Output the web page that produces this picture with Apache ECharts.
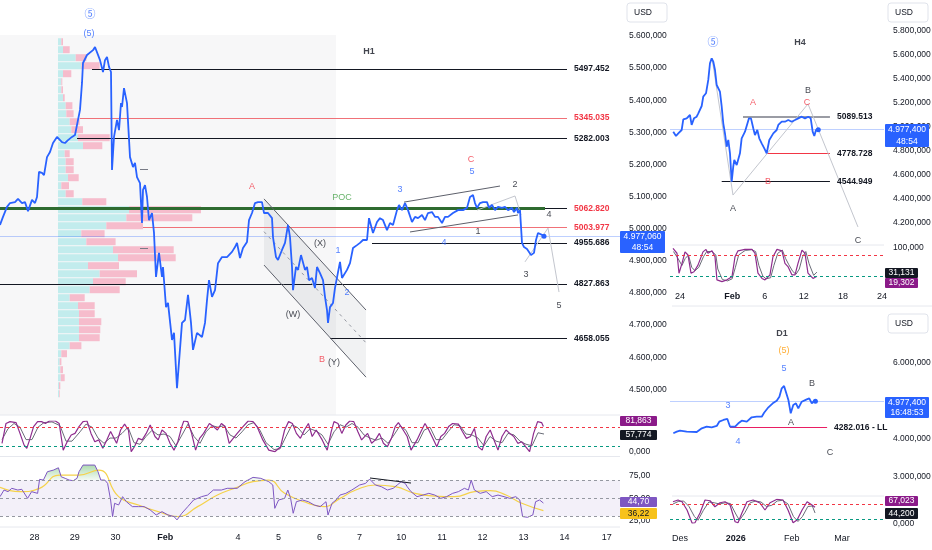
<!DOCTYPE html>
<html>
<head>
<meta charset="utf-8">
<script src="https://cdn.jsdelivr.net/npm/echarts@6/dist/echarts.min.js"></script>
<style>
html, body { margin: 0; padding: 0; background: #fff; }
#chart { width: 932px; height: 550px; }
</style>
</head>
<body>
<div id="chart"></div>
<script>
// ---- H1 (bar index on x, price on y) ----
var h1DayTicks = [17.2, 37.4, 57.7, 82.6, 119, 139.3, 159.7, 179.8, 200.6, 221, 241.3, 261.8, 282.2, 303.4];
var h1DayLabels = ['28', '29', '30', 'Feb', '4', '5', '6', '7', '10', '11', '12', '13', '14', '17'];

var h1Price = [[0,5012],[1.5,5037],[3.5,5068],[5,5080],[7.5,5083],[9,5093],[11,5080],[12.5,5083],[14,5055],[16,5090],[17.5,5080],[18.5,5099],[19.5,5177],[21,5174],[22,5167],[23.5,5223],[25,5239],[26.5,5267],[28.5,5286],[29.5,5292],[31,5270],[32.5,5267],[34,5276],[36,5286],[37.5,5292],[38.5,5286],[40,5370],[41,5454],[41.5,5516],[43.5,5541],[44.5,5547],[46.5,5556],[47.5,5566],[48.5,5560],[50,5525],[51.5,5488],[52.5,5525],[53.5,5535],[54.5,5504],[55.5,5488],[56,5183],[57,5286],[58.5,5339],[59.5,5307],[60.5,5391],[61,5379],[62,5438],[63.5,5391],[65,5223],[66.5,5192],[67.5,5205],[68.5,5161],[70,5142],[71,5018],[71.5,5121],[72.5,5136],[73.5,5099],[74.5,5027],[76,5049],[77,4987],[78,4850],[79.5,4925],[81,4850],[81.5,4881],[83,4756],[84,4769],[86,4654],[87,4676],[88.5,4504],[91,4707],[92.5,4716],[94,4794],[95.5,4707],[96.5,4623],[98.5,4676],[101,4663],[102.5,4707],[103.5,4778],[104.5,4840],[106,4788],[107.5,4809],[109,4893],[111,4912],[113.5,4912],[116,4928],[117.5,4943],[118.5,4956],[120,4909],[121.5,4940],[123.5,4959],[124.5,5027],[126,5049],[127.5,5080],[129,5083],[131,5083],[132,5049],[134,5049],[136,5033],[136.5,4974],[138,4912],[139,4903],[141,4934],[142.5,4956],[144,5012],[145,4974],[146,4881],[146.5,4809],[148,4881],[149,4872],[150.5,4918],[151.5,4912],[152.5,4872],[153.5,4881],[154.5,4840],[156,4847],[157.5,4816],[158.5,4881],[160,4862],[161.5,4840],[162.5,4788],[163.5,4747],[164,4707],[165,4756],[166.5,4769],[167.5,4816],[168.5,4816],[170,4897],[171,4847],[172,4850],[173.5,4872],[175,4893],[176.5,4940],[178.5,4949],[180,4956],[181.5,4965],[183.5,4965],[184.5,5033],[186.5,4987],[188.5,5021],[190,5033],[191.5,5027],[193.5,4996],[195,5018],[196.5,5012],[198.5,5058],[199.5,5074],[201,5058],[202.5,5080],[204,5058],[206,5021],[207.5,5037],[209,5033],[211,5043],[212.5,5027],[214,5049],[216,5052],[217.5,5037],[219,5037],[221,5018],[222.5,5037],[224,5037],[226.5,5049],[229,5058],[231.5,5058],[233.5,5065],[235,5099],[236.5,5105],[237.5,5080],[238.5,5065],[240,5080],[241.5,5083],[243.5,5083],[244.5,5065],[246,5074],[247.5,5058],[249,5068],[251,5065],[252.5,5068],[254,5058],[256,5065],[257,5052],[258.5,5065],[259,5049],[260,5058],[261,4956],[262,4943],[263.5,4937],[264.5,4943],[265.5,4918],[267,4925],[268,4965],[269,4987],[271,4981],[272,4977]];

var h1StochK = [[1,28],[3,92],[5,98],[8,95],[10,60],[12,23],[13.4,12],[14.8,39],[16.8,82],[18.8,98],[20.8,98],[22.7,92],[24.7,100],[27.7,100],[29.6,92],[31.6,6],[33.6,33],[35.6,55],[37.5,60],[39.5,82],[41.5,98],[43.5,100],[45.5,60],[47.4,33],[49.4,39],[51.4,12],[53.4,39],[55.3,66],[58.3,28],[60.3,71],[62.3,90],[64.2,71],[65.6,1],[67.2,17],[69.2,44],[71.1,39],[73.1,60],[75.1,87],[77.5,50],[79.1,39],[81,71],[83,60],[85,28],[87,6],[88.9,33],[90.9,82],[91.9,100],[93.9,98],[95.8,60],[97.8,6],[99.8,44],[101.8,60],[104.7,92],[106.7,82],[108.7,71],[110.7,92],[112.6,82],[114.6,28],[116.6,44],[118.6,60],[121.5,82],[124.1,100],[126.5,98],[128.5,82],[131.4,39],[134.4,6],[137.4,1],[140.3,17],[142.3,71],[144.3,98],[146.2,92],[148.2,60],[150.2,44],[152.2,71],[154.2,92],[156.1,50],[158.1,71],[161.1,39],[163.6,6],[165.6,66],[167,98],[169,92],[170.9,60],[172.9,87],[174.9,100],[176.9,98],[178.9,66],[180.8,39],[183.8,60],[185.8,28],[187.7,39],[189.7,60],[191.7,28],[193.7,17],[195.7,44],[197.6,82],[199.2,95],[201.6,71],[203.6,50],[205.5,6],[208.5,39],[210.5,66],[212.5,92],[214.4,71],[216.4,44],[218.4,17],[220.4,50],[222.3,60],[224.3,82],[226.3,92],[229.2,90],[231.2,66],[233.2,44],[235.2,50],[237.2,76],[239.1,17],[241.1,6],[243.1,50],[245.1,71],[247,39],[249,6],[251,50],[253,71],[254.9,60],[256.9,50],[258.9,28],[260.9,33],[262.8,17],[264.8,1],[266.8,60],[268.8,98],[270.8,95],[271.7,82]];
var h1StochD = [[1,40],[4,75],[7,92],[10,80],[13,40],[16,40],[19,80],[22,95],[26,97],[30,85],[33,35],[36,35],[40,65],[43,90],[46,80],[49,45],[52,28],[55,45],[58,45],[61,60],[64,80],[67,30],[70,25],[73,50],[76,70],[79,55],[82,58],[85,50],[88,20],[91,55],[94,90],[97,50],[100,28],[103,65],[106,85],[109,80],[112,85],[115,55],[118,45],[121,65],[124,88],[127,95],[130,70],[133,30],[137,8],[140,10],[143,50],[146,88],[149,78],[152,55],[155,75],[158,68],[161,55],[164,25],[167,65],[170,88],[173,80],[176,92],[179,80],[182,55],[185,45],[188,38],[191,45],[194,28],[197,55],[200,85],[203,70],[206,30],[209,30],[212,70],[215,80],[218,40],[221,40],[224,65],[227,88],[230,85],[233,58],[236,55],[239,45],[242,20],[245,50],[248,35],[251,30],[254,60],[257,55],[260,35],[263,25],[266,20],[269,62],[272,58]];

var h1Rsi = [[0,51.8],[2,59.2],[4,57.4],[5.9,61.1],[8.9,59.2],[10.9,60],[13.8,49.9],[15.8,57.4],[18.8,55.5],[19.8,71.1],[21.7,70.3],[23.7,79.6],[26.7,81.4],[29.2,84],[30.6,74],[32.6,72.2],[34.6,70.3],[36.6,69.6],[38.5,72.2],[39.5,79.6],[41.5,87],[44.5,87],[47.4,87],[49,79.6],[50.4,70.3],[52.4,70.3],[53.8,66.6],[55.3,48.1],[56.3,29.6],[57.3,44.4],[59.3,42.5],[61.3,51.8],[63.2,46.2],[66.2,40.7],[69.2,40.7],[72.1,40.7],[75.1,37],[78.1,31.4],[81,35.1],[84,31.4],[87,29.6],[88.5,25.9],[90.9,33.3],[93.9,40.7],[96.8,48.1],[100.8,51.8],[103.8,53.6],[106.7,59.2],[110.7,59.2],[113.6,61.1],[118.6,61.1],[122.5,68.5],[126.5,73.3],[130.4,72.2],[134.4,68.5],[136.4,64.8],[137.4,38.8],[139.3,48.1],[142.3,49.9],[143.9,59.2],[145.3,49.9],[146.6,33.3],[148.2,46.2],[151.2,48.1],[154.2,46.2],[157.1,42.5],[160.1,40.7],[163,46.2],[164,31.4],[166,44.4],[168,48.1],[170,53.6],[172.9,55.5],[175.9,59.2],[179.8,64.8],[182.8,66.6],[184.8,71.4],[187.7,64.8],[190.7,62.9],[193.7,59.2],[196.6,61.1],[198.6,64.8],[200.6,68.5],[202.6,66.6],[203.6,62.9],[205.5,57.4],[208.5,51.8],[211.5,53.6],[214.4,55.5],[217.4,53.6],[220.4,49.9],[223.3,51.8],[226.3,55.5],[229.2,57.4],[232.2,61.1],[234.2,59.2],[235.6,70.3],[237.2,59.2],[240.1,55.5],[243.1,57.4],[246.1,51.8],[249,53.6],[252,51.8],[254.9,49.9],[257.9,51.8],[259.9,48.1],[261.3,29.6],[263.8,28.8],[266.4,31.4],[267.8,46.2],[269.8,48.1],[271.7,44.7]];
var h1RsiMa = [[0,62.2],[9.9,57.4],[19.8,61.1],[29.6,75.9],[39.5,75.9],[49.4,81.4],[59.3,51.8],[69.2,42.5],[79.1,35.1],[88.9,29.6],[98.8,40.7],[108.7,53.6],[118.6,62.2],[126.5,68.5],[134.4,70.3],[142.3,55.5],[154.2,44.4],[162.1,40.7],[170,49.9],[177.9,59.2],[187.7,64.8],[197.6,62.9],[207.5,55.5],[217.4,52.5],[227.3,51.8],[237.2,57.4],[245.1,58.5],[253,53.6],[260.9,44.4],[271.7,36.2]];
var rsiDivergence = [[185, 72.6], [205.5, 67]];

// volume profile rows, top to bottom (up / down volume)
var vpUp = [3.3,5,17.7,23.3,5,3.3,3.3,5,7.7,8.3,11.7,13.3,20,25,6.7,7.7,7.7,10,3.3,7.7,24.3,71,68.3,48.3,23.3,28.3,55,60,30,41.7,35,31.7,11.7,20,21,21,21,21,11.7,3.3,1.7,2.3,2.7,1,1];
var vpDown = [1.7,6.7,10.7,18.3,8.3,1,1.7,1.7,6.7,7.3,10,11.7,31.7,19.3,5,8,8,10.7,7.7,8,24,72,66,36.7,23.3,29.3,60.7,57.7,31,37.3,32.7,30,15,16.7,15.7,22.3,21.3,20.7,11.7,5.7,1.7,2.7,4,1.3,0.7];

var h1Last = 4977.060;
var pocPrice = 5062.82;
var h1LevelPrices = [5497.452, 5345.035, 5282.003, 5062.820, 5003.977, 4955.686, 4827.863, 4658.055];
var h1LevelFrom = [46, 40, 38.5, 272.5, 71.5, 186, 0, 165];
var h1LevelRed = [false, true, false, true, true, false, false, false];
var h1ChannelUpper = [[132, 5093], [183, 4747]];
var h1ChannelLower = [[132, 4887], [183, 4538]];
var h1ChannelMid = [[132, 4991], [183, 4645]];
var h1WedgeUpper = [[202, 5083], [250, 5133]];
var h1WedgeLower = [[205, 4990], [259, 5043]];
var h1Path12 = [[238.5, 5058], [257.5, 5102], [260.5, 5043]];
var h1Path345 = [[262.5, 4897], [274, 5002], [279.5, 4803]];
var h1VaMarks = [5186, 4940];

var h1Notes = [[45,5668,'⑤','blue'],[44.5,5609,'(5)','blue'],[184.5,5553,'H1','title'],[171,5096,'POC','green'],[126,5133,'A','red'],[160,4953,'(X)','black'],[169,4931,'1','blue'],[173.5,4800,'2','blue'],[146.5,4732,'(W)','black'],[161,4592,'B','red'],[167,4585,'(Y)','black'],[200,5121,'3','blue'],[235.5,5217,'C','red'],[236,5177,'5','blue'],[257.5,5139,'2','black'],[274.5,5043,'4','black'],[239,4990,'1','black'],[222,4956,'4','blue'],[263,4859,'3','black'],[279.5,4760,'5','black']];

// ---- H4 (days from 1 Feb on x) ----
var h4DayTicks = [-8, 0, 5, 11, 17, 23];
var h4DayLabels = ['24', 'Feb', '6', '12', '18', '24'];
var h4Price = [[-9.03,4961],[-8.61,4925],[-8.26,4947],[-7.74,4975],[-7.49,5064],[-6.97,5072],[-6.73,5058],[-6.47,5100],[-6.21,5017],[-5.85,5072],[-5.44,5086],[-5.19,5114],[-4.93,5100],[-4.67,5175],[-4.43,5253],[-4.01,5281],[-3.66,5392],[-3.40,5531],[-3.14,5572],[-2.89,5544],[-2.63,5475],[-2.37,5350],[-2.13,5364],[-1.87,5294],[-1.60,5169],[-1.36,5031],[-1.10,4947],[-0.84,4836],[-0.59,4892],[-0.33,4781],[-0.07,4544],[0.17,4669],[0.33,4725],[0.70,4683],[0.94,4669],[1.20,4781],[1.46,4906],[1.71,4919],[1.97,4961],[2.23,4947],[2.58,5072],[2.89,5072],[3.24,4989],[3.50,4933],[3.86,4975],[4.16,4906],[4.53,4864],[4.93,4822],[5.30,4781],[5.70,4892],[5.96,4878],[6.31,4947],[6.83,4975],[7.08,5017],[7.60,5044],[8.10,5044],[8.61,5058],[9.13,5044],[9.64,5058],[10.14,5072],[10.67,5086],[11.17,5072],[11.68,5086],[12.05,5072],[12.35,4961],[12.60,4925],[12.86,4975],[13.06,4981],[13.21,4977]];
var h4StochK = [[-9.07,99],[-8.46,85],[-8.15,28],[-7.69,56],[-7.23,89],[-6.77,80],[-6.31,28],[-5.85,32],[-5.24,51],[-4.47,89],[-4.01,96],[-3.71,85],[-3.09,92],[-2.63,75],[-2.33,9],[-1.56,4],[-0.79,9],[-0.02,18],[0.44,75],[0.9,92],[1.97,96],[3.04,96],[3.5,85],[3.96,28],[4.58,13],[5.04,9],[5.8,23],[6.26,75],[6.88,96],[7.64,92],[8.1,56],[8.56,47],[9.18,23],[9.64,23],[10.1,56],[10.71,94],[11.17,85],[11.63,28],[12.4,13],[13.01,19.3]];
var h4StochD = [[-9,90],[-8.3,70],[-7.7,50],[-7.2,70],[-6.7,80],[-6.2,45],[-5.7,35],[-5.1,45],[-4.4,75],[-3.9,90],[-3.1,90],[-2.5,80],[-2.2,40],[-1.5,10],[-0.7,6],[0,12],[0.5,45],[1,80],[2,93],[3,95],[3.6,90],[4.1,50],[4.7,20],[5.2,12],[5.9,15],[6.4,50],[7,85],[7.7,94],[8.2,70],[8.7,52],[9.3,33],[9.8,25],[10.3,40],[10.8,75],[11.3,90],[11.8,55],[12.5,22],[13,31.1]];
var h4Last = 4977.4;
var h4LevelPrices = [5089.513, 4778.728, 4544.949];
var h4LevelFrom = [1.66, 5.34, -1.6];
var h4Projection = [[-3.09, 5575], [0.13, 4433], [11.63, 5192], [19.3, 4167]];
var h4Notes = [[-2.94,5708,'⑤','blue'],[10.4,5700,'H4','title'],[3.2,5208,'A','red'],[11.48,5200,'C','red'],[11.63,5308,'B','black'],[5.5,4542,'B','red'],[0.13,4317,'A','black'],[19.3,4058,'C','black']];

// ---- D1 (days from 1 Dec on x) ----
var d1DayTicks = [0, 31, 62, 90];
var d1DayLabels = ['Des', '2026', 'Feb', 'Mar'];
var d1Price = [[-3.7,4132],[-1.8,4174],[0,4200],[3.7,4174],[9.3,4166],[12.1,4263],[14.8,4305],[17.6,4289],[20.4,4324],[21.8,4437],[24.1,4482],[26.3,4508],[27.8,4305],[30.6,4305],[32.4,4395],[34.3,4463],[37.1,4437],[39.8,4553],[42.6,4568],[45.4,4568],[46.7,4674],[49.1,4816],[51.5,4921],[53.7,4989],[55.2,5095],[56.5,5316],[57.8,5376],[58.9,5342],[60.2,5008],[61.5,4658],[62.9,4876],[64.4,4921],[65.7,4789],[67.6,4963],[70.4,5026],[71.8,5053],[73.2,4921],[74.4,4982],[75.2,4977]];
var d1StochK = [[-3.9,89],[-1.1,96],[1.1,89],[3.9,56],[6.7,4],[8.3,5],[11.1,44],[13.9,96],[16.7,93],[19.4,69],[22.2,85],[25,89],[27.8,76],[30.6,9],[32.2,5],[34.4,44],[37.2,89],[40.6,96],[44.4,84],[47.2,56],[50,85],[53.9,99],[57.2,96],[60,56],[62.8,5],[65,16],[67.8,56],[70.6,89],[73.3,76],[75,67]];
var d1StochD = [[-3.9,80],[-1,90],[2,92],[5,70],[8,30],[10,15],[13,55],[16,88],[19,85],[22,80],[25,85],[28,82],[31,40],[33,15],[36,45],[39,85],[42,92],[45,88],[48,70],[51,75],[54,92],[57,95],[60,80],[63,30],[65.5,10],[68,30],[71,70],[73.5,72],[75,44.2]];
var d1Last = 4977.4;
var d1LowPrice = 4282.016;
var d1LowFrom = 27.8, d1LowTo = 81.7;
var d1Notes = [[56.7,6745,'D1','title'],[57.8,6297,'(5)','orange'],[57.8,5824,'5','blue'],[73.3,5429,'B','black'],[26.7,4850,'3','blue'],[61.7,4403,'A','black'],[32.2,3903,'4','blue'],[83.3,3613,'C','black']];

// ---- helpers ----
var FONT = 'Liberation Sans';
var INK = '#131722';
var BLUE = '#2962ff';
var noteColors = { blue: BLUE, red: '#f23645', black: INK, green: '#43a047', title: INK, orange: '#ff9800' };

function fmtNum(v, dec) {
    var s = Math.abs(v).toFixed(dec).split('.');
    var ip = s[0].replace(/\B(?=(\d{3})+(?!\d))/g, '.');
    return (v < 0 ? '-' : '') + ip + (dec ? ',' + s[1] : '');
}
function seg(a, b, style) {
    return [{ coord: a, lineStyle: style }, { coord: b }];
}
function path(points, style) {
    var out = [];
    for (var i = 1; i < points.length; i++) out.push(seg(points[i - 1], points[i], style));
    return out;
}
function levelLine(from, to, price, lineColor, textColor, text) {
    return [{
        coord: [from, price],
        lineStyle: { color: lineColor, width: 1, type: 'solid' },
        label: { show: true, position: 'end', distance: 7, formatter: text, color: textColor,
                 fontSize: 8.5, fontWeight: 'bold', fontFamily: FONT }
    }, { coord: [to, price] }];
}
function notes(list, xi, yi) {
    return {
        type: 'scatter', xAxisIndex: xi, yAxisIndex: yi, symbolSize: 1, silent: true, z: 10,
        itemStyle: { color: 'rgba(0,0,0,0)' },
        data: list.map(function (n) {
            var big = n[2] === '⑤';
            return {
                name: n[2], value: [n[0], n[1]],
                label: {
                    color: noteColors[n[3]],
                    fontWeight: n[3] === 'title' ? 'bold' : 'normal',
                    fontSize: big ? 11 : 9,
                    fontFamily: big ? 'Noto Sans CJK SC' : FONT
                }
            };
        }),
        label: { show: true, position: 'inside', formatter: '{b}' }
    };
}
function dayAxis(grid, min, max, ticks, labels, boldLabel, margin, show) {
    return {
        type: 'value', gridIndex: grid, min: min, max: max,
        axisLine: { show: false }, axisTick: { show: false }, splitLine: { show: false },
        axisLabel: {
            show: show, margin: margin, customValues: ticks,
            color: INK, fontSize: 9, fontFamily: FONT,
            formatter: function (v) {
                var i = ticks.indexOf(v);
                if (i < 0) return '';
                return labels[i] === boldLabel ? '{b|' + labels[i] + '}' : labels[i];
            },
            rich: { b: { fontWeight: 'bold', fontSize: 9, color: INK, fontFamily: FONT } }
        }
    };
}
function priceAxis(grid, min, max, interval, hidden, dec) {
    return {
        type: 'value', gridIndex: grid, position: 'right', min: min, max: max, interval: interval,
        axisLine: { show: false }, axisTick: { show: false }, splitLine: { show: false },
        axisLabel: {
            margin: 9, color: INK, fontSize: 8.5, fontFamily: FONT,
            formatter: function (v) {
                if (v % interval !== 0 || hidden.indexOf(v) >= 0) return '';
                return fmtNum(v, dec);
            }
        }
    };
}
function stochLines(xi, yi, k, d) {
    return [{
        type: 'line', xAxisIndex: xi, yAxisIndex: yi, data: d, showSymbol: false, silent: true,
        lineStyle: { color: '#6a6d78', width: 1 }
    }, {
        type: 'line', xAxisIndex: xi, yAxisIndex: yi, data: k, showSymbol: false, silent: true,
        lineStyle: { color: '#8e2c8e', width: 1.2 },
        markLine: {
            silent: true, symbol: 'none', label: { show: false },
            data: [
                { yAxis: 80, lineStyle: { color: '#f23645', type: [3, 3], width: 1 } },
                { yAxis: 20, lineStyle: { color: '#089981', type: [3, 3], width: 1 } }
            ]
        }
    }];
}
function currentLine(v) {
    return { yAxis: v, lineStyle: { color: BLUE, width: 1, opacity: 0.3, type: 'solid' } };
}

// ---- mark lines ----
var h1Marks = [currentLine(h1Last)];
h1Marks.push(seg([0, pocPrice], [272.5, pocPrice], { color: '#2e6b30', width: 2.8, type: 'solid' }));
h1LevelPrices.forEach(function (p, i) {
    var red = h1LevelRed[i];
    var lineColor = (red && p !== pocPrice) ? '#f07178' : INK;
    h1Marks.push(levelLine(h1LevelFrom[i], 283.5, p, lineColor, red ? '#f23645' : INK, p.toFixed(3)));
});
var thin = { color: '#5d606b', width: 1, type: 'solid' };
var ghost = { color: '#c3c6ce', width: 1, type: 'solid' };
h1Marks.push(seg(h1ChannelUpper[0], h1ChannelUpper[1], thin));
h1Marks.push(seg(h1ChannelLower[0], h1ChannelLower[1], thin));
h1Marks.push(seg(h1ChannelMid[0], h1ChannelMid[1], { color: '#9598a1', width: 1, type: [3, 4] }));
h1Marks.push(seg(h1WedgeUpper[0], h1WedgeUpper[1], thin));
h1Marks.push(seg(h1WedgeLower[0], h1WedgeLower[1], thin));
h1Marks = h1Marks.concat(path(h1Path12, ghost), path(h1Path345, ghost));
h1VaMarks.forEach(function (p) {
    h1Marks.push(seg([70, p], [74, p], { color: '#787b86', width: 1, type: 'solid' }));
});

var h4Marks = [currentLine(h4Last)];
var h4LineColors = ['#787b86', '#f23645', INK];
h4LevelPrices.forEach(function (p, i) {
    var m = levelLine(h4LevelFrom[i], 15, p, h4LineColors[i], INK, p.toFixed(3));
    if (i === 0) m[0].lineStyle.width = 1.6;
    h4Marks.push(m);
});
h4Marks = h4Marks.concat(path(h4Projection, ghost));

var d1Marks = [currentLine(d1Last),
    levelLine(d1LowFrom, d1LowTo, d1LowPrice, '#e91e63', INK, d1LowPrice.toFixed(3) + ' - LL')];

// ---- chart ----
var chart = echarts.init(document.getElementById('chart'), null, { renderer: 'canvas' });

var grids = [
    { left: 0, right: 312, top: 3.9, height: 417.6 },   // 0 H1 price
    { left: 0, right: 312, top: 421, height: 31 },      // 1 H1 stoch
    { left: 0, right: 312, top: 457, height: 70 },      // 2 H1 RSI
    { left: 58, top: 37.7, width: 200, height: 360 },   // 3 volume profile
    { left: 670, right: 48, top: 19, height: 228 },     // 4 H4 price
    { left: 670, right: 48, top: 248, height: 35 },     // 5 H4 stoch
    { left: 670, right: 48, top: 324.3, height: 190 },  // 6 D1 price
    { left: 670, right: 48, top: 499, height: 25 }      // 7 D1 stoch
];
grids.forEach(function (g) { g.outerBoundsMode = 'none'; g.containLabel = false; });

var vpRows = vpUp.map(function (v, i) { return 'r' + i; });

function tag(x, y, w, h, bg, fg, lines) {
    var els = [{ type: 'rect', shape: { x: x, y: y, width: w, height: h, r: 1 }, style: { fill: bg }, z: 100 }];
    lines.forEach(function (t, i) {
        els.push({
            type: 'text', z: 101,
            style: { text: t, x: x + w / 2, y: y + (h / lines.length) * (i + 0.5), fill: fg,
                     font: '8.5px ' + FONT, textAlign: 'center', textVerticalAlign: 'middle' }
        });
    });
    return els;
}
function usd(x, y) {
    return [
        { type: 'rect', z: 100, shape: { x: x, y: y, width: 40, height: 19, r: 3 },
          style: { fill: '#fff', stroke: '#e0e3eb', lineWidth: 1 } },
        { type: 'text', z: 101, style: { text: 'USD', x: x + 7, y: y + 9.5, fill: INK,
          font: '8.5px ' + FONT, textVerticalAlign: 'middle' } }
    ];
}
function rule(x1, y1, x2, y2) {
    return { type: 'line', z: 90, shape: { x1: x1, y1: y1, x2: x2, y2: y2 }, style: { stroke: '#e6e8ee', lineWidth: 1 } };
}

var graphics = [].concat(
    rule(0, 415, 620, 415), rule(0, 456.5, 620, 456.5), rule(0, 527, 620, 527),
    rule(672, 245, 884, 245), rule(672, 306, 932, 306), rule(672, 496, 884, 496),
    usd(627, 3), usd(888, 3), usd(888, 314),
    tag(620, 231, 45, 22, BLUE, '#fff', [fmtNum(h1Last, 3), '48:54']),
    tag(885, 124, 44, 23, BLUE, '#fff', [fmtNum(h4Last, 3), '48:54']),
    tag(885, 397, 44, 21, BLUE, '#fff', [fmtNum(d1Last, 3), '16:48:53']),
    tag(620, 416, 37, 10, '#8b1a89', '#fff', ['81,863']),
    tag(620, 430, 37, 10, INK, '#fff', ['57,774']),
    tag(620, 497, 37, 10, '#7e57c2', '#fff', ['44,70']),
    tag(620, 508, 37, 11, '#f7c21b', INK, ['36,22']),
    tag(885, 268, 33, 10, INK, '#fff', ['31,131']),
    tag(885, 278, 33, 10, '#8b1a89', '#fff', ['19,302']),
    tag(885, 496, 33, 10, '#8b1a89', '#fff', ['67,023']),
    tag(885, 508, 33, 11, INK, '#fff', ['44,200'])
);

var option = {
    animation: false,
    backgroundColor: '#ffffff',
    textStyle: { fontFamily: FONT },
    grid: grids,
    xAxis: [
        dayAxis(0, 0, 310, h1DayTicks, h1DayLabels, 'Feb', 6, false),
        dayAxis(1, 0, 310, h1DayTicks, h1DayLabels, 'Feb', 6, false),
        dayAxis(2, 0, 310, h1DayTicks, h1DayLabels, 'Feb', 6, true),
        { type: 'value', gridIndex: 3, min: 0, max: 200, show: false },
        dayAxis(4, -9.53, 23.29, h4DayTicks, h4DayLabels, 'Feb', 9, false),
        dayAxis(5, -9.53, 23.29, h4DayTicks, h4DayLabels, 'Feb', 9, true),
        dayAxis(6, -5.56, 113.3, d1DayTicks, d1DayLabels, '2026', 10, false),
        dayAxis(7, -5.56, 113.3, d1DayTicks, d1DayLabels, '2026', 10, true)
    ],
    yAxis: [
        priceAxis(0, 4400, 5700, 100, [4400, 5700], 3),
        priceAxis(1, 0, 100, 100, [100], 3),
        {
            type: 'value', gridIndex: 2, position: 'right', min: 18, max: 96,
            axisLine: { show: false }, axisTick: { show: false }, splitLine: { show: false },
            axisLabel: { margin: 9, color: INK, fontSize: 8.5, fontFamily: FONT, customValues: [25, 50, 75],
                         formatter: function (v) { return fmtNum(v, 2); } }
        },
        { type: 'category', gridIndex: 3, data: vpRows, inverse: true, show: false },
        priceAxis(4, 4000, 5900, 200, [4000], 3),
        priceAxis(5, 0, 100, 100, [0], 3),
        priceAxis(6, 2000, 7000, 1000, [2000, 5000, 7000], 3),
        priceAxis(7, 0, 100, 100, [100], 3)
    ],
    graphic: { elements: graphics },
    series: [
        // volume profile
        { type: 'bar', xAxisIndex: 3, yAxisIndex: 3, stack: 'vp', barWidth: 7, silent: true, z: 1,
          data: vpUp, itemStyle: { color: '#c2eced' } },
        { type: 'bar', xAxisIndex: 3, yAxisIndex: 3, stack: 'vp', barWidth: 7, silent: true, z: 1,
          data: vpDown, itemStyle: { color: '#f6bccc' } },
        // channel fill
        {
            type: 'custom', xAxisIndex: 0, yAxisIndex: 0, silent: true, z: 1,
            data: [h1ChannelUpper[0]],
            renderItem: function (params, api) {
                var pts = [h1ChannelUpper[0], h1ChannelUpper[1], h1ChannelLower[1], h1ChannelLower[0]]
                    .map(function (p) { return api.coord(p); });
                return { type: 'polygon', shape: { points: pts }, style: { fill: 'rgba(120,123,134,0.10)' } };
            }
        },
        // H1 price
        {
            type: 'line', xAxisIndex: 0, yAxisIndex: 0, data: h1Price, showSymbol: false, z: 5,
            lineStyle: { color: BLUE, width: 1.8 },
            markArea: { silent: true, itemStyle: { color: 'rgba(120,123,134,0.06)' },
                        data: [[{ coord: [0, 5603] }, { coord: [168, 4420] }]] },
            markLine: { silent: true, symbol: 'none', label: { show: false }, data: h1Marks },
            markPoint: { silent: true, symbol: 'circle', symbolSize: 5, itemStyle: { color: BLUE },
                         label: { show: false }, data: [{ coord: h1Price[h1Price.length - 1] }] }
        },
        notes(h1Notes, 0, 0)
    ].concat(
        stochLines(1, 1, h1StochK, h1StochD),
        [
            // RSI overbought fill
            {
                type: 'line', xAxisIndex: 2, yAxisIndex: 2, showSymbol: false, silent: true, z: 1,
                data: h1Rsi.map(function (p) { return [p[0], Math.max(p[1], 70)]; }),
                lineStyle: { width: 0 },
                areaStyle: { origin: 70, color: { type: 'linear', x: 0, y: 0, x2: 0, y2: 1,
                    colorStops: [{ offset: 0, color: 'rgba(76,175,80,0.65)' }, { offset: 1, color: 'rgba(76,175,80,0.08)' }] } }
            },
            {
                type: 'line', xAxisIndex: 2, yAxisIndex: 2, data: h1RsiMa, showSymbol: false, silent: true,
                smooth: true, lineStyle: { color: '#f5d24a', width: 1.2 }
            },
            {
                type: 'line', xAxisIndex: 2, yAxisIndex: 2, data: h1Rsi, showSymbol: false, silent: true,
                lineStyle: { color: '#7e57c2', width: 1 },
                markArea: { silent: true, itemStyle: { color: 'rgba(126,87,194,0.09)' },
                            data: [[{ yAxis: 30 }, { yAxis: 70 }]] },
                markLine: { silent: true, symbol: 'none', label: { show: false }, data: [
                    { yAxis: 70, lineStyle: { color: '#9598a1', type: [3, 3], width: 1 } },
                    { yAxis: 50, lineStyle: { color: '#9598a1', type: [3, 3], width: 1 } },
                    { yAxis: 30, lineStyle: { color: '#9598a1', type: [3, 3], width: 1 } },
                    seg(rsiDivergence[0], rsiDivergence[1], { color: INK, width: 1, type: 'solid' })
                ] }
            },
            // H4
            {
                type: 'line', xAxisIndex: 4, yAxisIndex: 4, data: h4Price, showSymbol: false, z: 5,
                lineStyle: { color: BLUE, width: 1.8 },
                markLine: { silent: true, symbol: 'none', label: { show: false }, data: h4Marks },
                markPoint: { silent: true, symbol: 'circle', symbolSize: 5, itemStyle: { color: BLUE },
                             label: { show: false }, data: [{ coord: h4Price[h4Price.length - 1] }] }
            },
            notes(h4Notes, 4, 4)
        ],
        stochLines(5, 5, h4StochK, h4StochD),
        [
            // D1
            {
                type: 'line', xAxisIndex: 6, yAxisIndex: 6, data: d1Price, showSymbol: false, z: 5,
                lineStyle: { color: BLUE, width: 1.8 },
                markLine: { silent: true, symbol: 'none', label: { show: false }, data: d1Marks },
                markPoint: { silent: true, symbol: 'circle', symbolSize: 5, itemStyle: { color: BLUE },
                             label: { show: false }, data: [{ coord: d1Price[d1Price.length - 1] }] }
            },
            notes(d1Notes, 6, 6)
        ],
        stochLines(7, 7, d1StochK, d1StochD)
    )
};

chart.setOption(option);
window.addEventListener('resize', function () { chart.resize(); });
</script>
</body>
</html>
